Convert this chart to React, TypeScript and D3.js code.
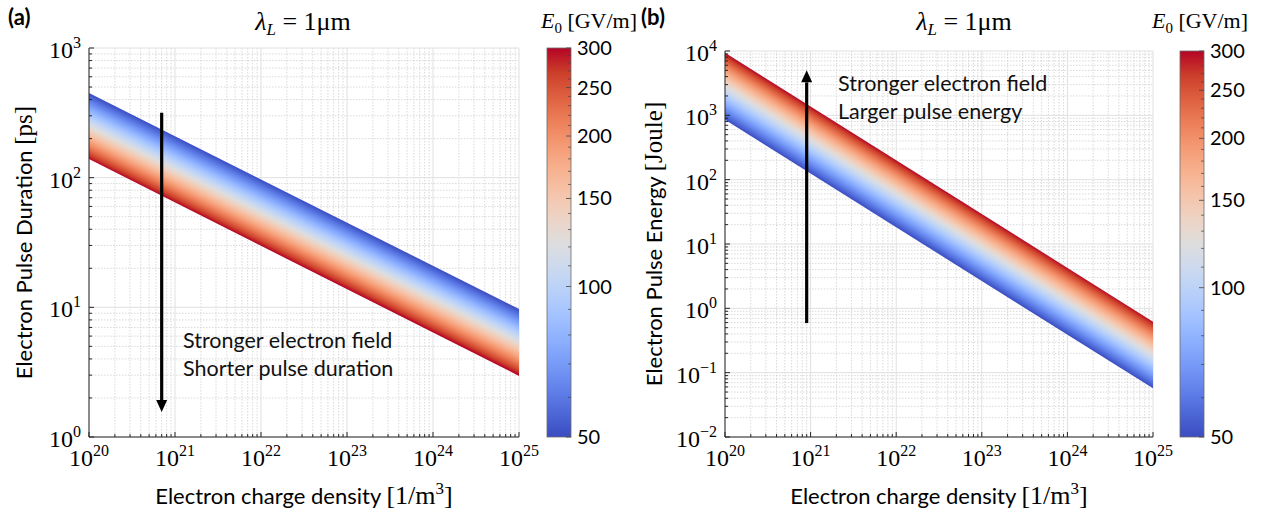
import React from "react";
import * as d3 from "d3";

// ---- data ----
const densityDomain = [1e20, 1e25];
const densityTicks = [1e20, 1e21, 1e22, 1e23, 1e24, 1e25];
const fieldDomain = [50, 300]; // GV/m
const fieldTicks = [50, 100, 150, 200, 250, 300];

// line end points at n = 1e20 and n = 1e25
const durationWeak = [450, 9.7]; // ps, E0 = 50
const durationStrong = [139, 2.96]; // ps, E0 = 300
const energyWeak = [850, 0.057]; // J, E0 = 50
const energyStrong = [9400, 0.62]; // J, E0 = 300

const durationTicks = [1, 10, 100, 1000];
const energyTicks = [1e-2, 1e-1, 1, 10, 100, 1e3, 1e4];

const arrowDuration = { n: 7e20, from: 316, to: 1.56 };
const arrowEnergy = { n: 9e20, from: 0.59, to: 5000 };

const notesDuration = ["Stronger electron field", "Shorter pulse duration"];
const notesEnergy = ["Stronger electron field", "Larger pulse energy"];

// coolwarm colormap
const coolwarm = [
  "#3b4cc0", "#4d68d7", "#6282ea", "#779af7", "#8db0fe", "#a3c2ff",
  "#b8d0f9", "#ccd9ee", "#dddddd", "#ecd3c5", "#f5c4ab", "#f7b18f",
  "#f49a74", "#ec7f59", "#de6040", "#cb3e2a", "#b40426",
];
const cmap = d3.piecewise(d3.interpolateRgb, coolwarm);
const stopOffsets = d3.range(0, 1.0001, 1 / 32);

const serif = "'Liberation Serif', 'DejaVu Serif', serif";
const sans = "Lato, 'Open Sans', sans-serif";
const axisColor = "#262626";

function minorValues(domain: number[]) {
  const out: number[] = [];
  const lo = Math.floor(Math.log10(domain[0]));
  const hi = Math.ceil(Math.log10(domain[1]));
  for (let e = lo; e < hi; e++) {
    for (let k = 2; k <= 9; k++) {
      const v = k * Math.pow(10, e);
      if (v > domain[0] && v < domain[1]) out.push(v);
    }
  }
  return out;
}

function expLabel(v: number) {
  const e = Math.round(Math.log10(v));
  return e < 0 ? "\u2212" + Math.abs(e) : String(e);
}

function Panel(props: any) {
  const { id, box, yDomain, yTicks, weak, strong, arrow, notes, notePos,
    letter, letterX, titleX, yLabel, yUnit, yLabelX, cbarX, cbarLabelX } = props;

  const x = d3.scaleLog().domain(densityDomain).range([box.left, box.right]);
  const y = d3.scaleLog().domain(yDomain).range([box.bottom, box.top]);
  const cb = d3.scaleLog().domain(fieldDomain).range([box.bottom, box.top]);

  const xMinor = minorValues(densityDomain);
  const yMinor = minorValues(yDomain);

  // band polygon
  const n0 = densityDomain[0];
  const n1 = densityDomain[1];
  const pts = [
    [x(n0), y(weak[0])],
    [x(n1), y(weak[1])],
    [x(n1), y(strong[1])],
    [x(n0), y(strong[0])],
  ];
  const band = d3.line()(pts as [number, number][]) + "Z";

  // gradient vector perpendicular to the lines, from E0 = 50 to E0 = 300
  const dx = pts[1][0] - pts[0][0];
  const dy = pts[1][1] - pts[0][1];
  const len = Math.hypot(dx, dy);
  let nx = -dy / len;
  let ny = dx / len;
  const vx = pts[3][0] - pts[0][0];
  const vy = pts[3][1] - pts[0][1];
  let dist = vx * nx + vy * ny;
  if (dist < 0) {
    nx = -nx;
    ny = -ny;
    dist = -dist;
  }
  const g = { x1: pts[0][0], y1: pts[0][1], x2: pts[0][0] + nx * dist, y2: pts[0][1] + ny * dist };

  const ax = x(arrow.n);
  const ay0 = y(arrow.from);
  const ay1 = y(arrow.to);
  const dir = ay1 > ay0 ? 1 : -1;
  const headLen = 12;
  const headW = 5.5;

  const cbW = 24;
  const cbTicks = d3.range(60, 300, 10).filter((v) => !fieldTicks.includes(v));

  return (
    <g>
      <defs>
        <linearGradient id={`band-${id}`} gradientUnits="userSpaceOnUse" {...g}>
          {stopOffsets.map((t) => (
            <stop key={t} offset={t} stopColor={cmap(t)} />
          ))}
        </linearGradient>
        <linearGradient id={`cbar-${id}`} x1="0" y1="1" x2="0" y2="0">
          {stopOffsets.map((t) => (
            <stop key={t} offset={t} stopColor={cmap(t)} />
          ))}
        </linearGradient>
      </defs>

      {/* grid */}
      {xMinor.map((v) => (
        <line key={"xm" + v} x1={x(v)} x2={x(v)} y1={box.top} y2={box.bottom}
          stroke="#cfcfcf" strokeWidth={0.8} strokeDasharray="1.5,1.5" />
      ))}
      {yMinor.map((v) => (
        <line key={"ym" + v} x1={box.left} x2={box.right} y1={y(v)} y2={y(v)}
          stroke="#cfcfcf" strokeWidth={0.8} strokeDasharray="1.5,1.5" />
      ))}
      {densityTicks.map((v) => (
        <line key={"xg" + v} x1={x(v)} x2={x(v)} y1={box.top} y2={box.bottom}
          stroke="#e0e0e0" strokeWidth={1} />
      ))}
      {yTicks.map((v: number) => (
        <line key={"yg" + v} x1={box.left} x2={box.right} y1={y(v)} y2={y(v)}
          stroke="#e0e0e0" strokeWidth={1} />
      ))}

      {/* band */}
      <path d={band} fill={`url(#band-${id})`} />

      {/* axes */}
      <line x1={box.left} x2={box.right} y1={box.bottom} y2={box.bottom} stroke={axisColor} strokeWidth={1} />
      <line x1={box.left} x2={box.left} y1={box.top} y2={box.bottom} stroke={axisColor} strokeWidth={1} />
      {densityTicks.map((v) => (
        <line key={"xt" + v} x1={x(v)} x2={x(v)} y1={box.bottom} y2={box.bottom - 5} stroke={axisColor} />
      ))}
      {xMinor.map((v) => (
        <line key={"xmt" + v} x1={x(v)} x2={x(v)} y1={box.bottom} y2={box.bottom - 3} stroke={axisColor} />
      ))}
      {yTicks.map((v: number) => (
        <line key={"yt" + v} x1={box.left} x2={box.left + 5} y1={y(v)} y2={y(v)} stroke={axisColor} />
      ))}
      {yMinor.map((v) => (
        <line key={"ymt" + v} x1={box.left} x2={box.left + 3} y1={y(v)} y2={y(v)} stroke={axisColor} />
      ))}

      {/* tick labels */}
      {densityTicks.map((v) => (
        <text key={"xl" + v} x={x(v)} y={box.bottom + 29} textAnchor="middle"
          fontFamily={serif} fontSize={24} fill="#000">
          10<tspan dy={-10} fontSize={16}>{expLabel(v)}</tspan>
        </text>
      ))}
      {yTicks.map((v: number) => (
        <text key={"yl" + v} x={box.left - 8} y={y(v) + 10} textAnchor="end"
          fontFamily={serif} fontSize={24} fill="#000">
          10<tspan dy={-10} fontSize={16}>{expLabel(v)}</tspan>
        </text>
      ))}

      {/* axis labels */}
      <text x={(box.left + box.right) / 2} y={504} textAnchor="middle" fontSize={22} fontFamily={sans} fill="#000">
        Electron charge density{" "}
        <tspan fontFamily={serif} fontSize={26}>[1/m</tspan>
        <tspan fontFamily={serif} fontSize={17} dy={-10}>3</tspan>
        <tspan fontFamily={serif} fontSize={26} dy={10}>]</tspan>
      </text>
      <text transform={`translate(${yLabelX},${(box.top + box.bottom) / 2}) rotate(-90)`}
        textAnchor="middle" fontSize={22} fontFamily={sans} fill="#000">
        {yLabel} <tspan fontFamily={serif} fontSize={25}>{yUnit}</tspan>
      </text>

      {/* arrow and notes */}
      <line x1={ax} x2={ax} y1={ay0} y2={ay1 - dir * headLen} stroke="#000" strokeWidth={3.2} />
      <path d={`M${ax},${ay1} L${ax - headW},${ay1 - dir * headLen} L${ax + headW},${ay1 - dir * headLen} Z`} fill="#000" />
      {notes.map((t: string, i: number) => (
        <text key={t} x={notePos[0]} y={notePos[1] + i * 28} fontFamily={sans} fontSize={21.5} fill="#111">
          {t}
        </text>
      ))}

      {/* titles */}
      <text x={letterX} y={25} fontFamily={sans} fontWeight="bold" fontSize={22} fill="#000">{letter}</text>
      <text x={titleX} y={30} textAnchor="middle" fontFamily={serif} fontSize={26} fill="#000">
        <tspan fontStyle="italic">λ</tspan>
        <tspan fontStyle="italic" fontSize={17} dy={5}>L</tspan>
        <tspan dy={-5}> = 1μm</tspan>
      </text>

      {/* colorbar */}
      <rect x={cbarX} y={box.top} width={cbW} height={box.bottom - box.top}
        fill={`url(#cbar-${id})`} stroke="#6b6b6b" strokeWidth={0.8} />
      {fieldTicks.map((v) => (
        <g key={"cb" + v}>
          <line x1={cbarX + cbW - 5} x2={cbarX + cbW} y1={cb(v)} y2={cb(v)} stroke="#444" strokeWidth={0.8} />
          <text x={cbarX + cbW + 6} y={cb(v) + 7} fontFamily={sans} fontSize={20} fill="#000">{v}</text>
        </g>
      ))}
      {cbTicks.map((v) => (
        <line key={"cbm" + v} x1={cbarX + cbW - 3} x2={cbarX + cbW} y1={cb(v)} y2={cb(v)} stroke="#444" strokeWidth={0.7} />
      ))}
      <text x={cbarLabelX} y={28} textAnchor="middle" fontFamily={serif} fontSize={22} fill="#000">
        <tspan fontStyle="italic">E</tspan>
        <tspan fontSize={15} dy={5}>0</tspan>
        <tspan dy={-5}> [GV/m]</tspan>
      </text>
    </g>
  );
}

export default function App() {
  return (
    <svg width={1263} height={516} style={{ position: "absolute", left: 0, top: 0, background: "#fff" }}>
      <rect width={1263} height={516} fill="#fff" />
      <Panel
        id="a"
        box={{ left: 89, right: 519, top: 48, bottom: 437 }}
        yDomain={[1, 1000]}
        yTicks={durationTicks}
        weak={durationWeak}
        strong={durationStrong}
        arrow={arrowDuration}
        notes={notesDuration}
        notePos={[183, 348]}
        letter="(a)"
        letterX={8}
        titleX={303}
        yLabel="Electron Pulse Duration"
        yUnit="[ps]"
        yLabelX={32}
        cbarX={547}
        cbarLabelX={589}
      />
      <Panel
        id="b"
        box={{ left: 725, right: 1153, top: 51, bottom: 437 }}
        yDomain={[0.01, 10000]}
        yTicks={energyTicks}
        weak={energyWeak}
        strong={energyStrong}
        arrow={arrowEnergy}
        notes={notesEnergy}
        notePos={[838, 91]}
        letter="(b)"
        letterX={641}
        titleX={964}
        yLabel="Electron Pulse Energy"
        yUnit="[Joule]"
        yLabelX={662}
        cbarX={1180}
        cbarLabelX={1200}
      />
    </svg>
  );
}
